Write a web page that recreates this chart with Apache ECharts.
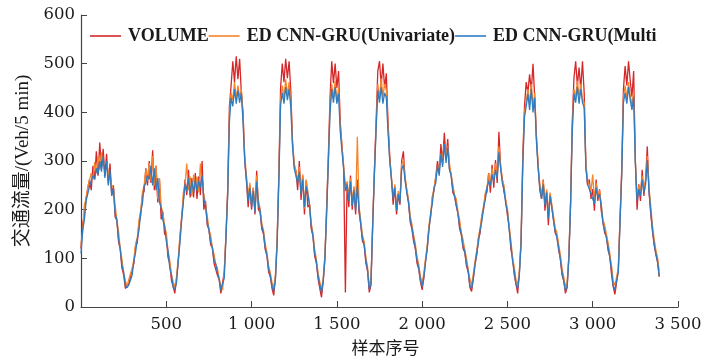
<!DOCTYPE html>
<html>
<head>
<meta charset="utf-8">
<script src="https://cdn.jsdelivr.net/npm/echarts@6/dist/echarts.min.js"></script>
<style>
html,body{margin:0;padding:0;background:#fff;}
#chart{width:706px;height:363px;}
</style>
</head>
<body>
<div id="chart"></div>
<script>
// sample index step between stored values
var sampleStep = 10;
var seriesNames = ['VOLUME', 'ED CNN-GRU(Univariate)', 'ED CNN-GRU(Multi'];
var xTicks = [0, 500, 1000, 1500, 2000, 2500, 3000, 3500];
var yTicks = [0, 100, 200, 300, 400, 500, 600];

var volume = [
120,172,190,225,222,262,240,290,262,320,270,338,285,325,270,315,255,295,230,250,185,178,135,118,80,66,38,36,48,
50,76,90,125,132,172,188,230,238,285,250,300,255,322,240,290,215,262,180,195,150,145,102,90,55,42,28,58,92,
140,185,220,262,230,282,225,265,225,275,222,268,230,300,200,218,168,160,128,122,90,88,65,56,28,24,72,150,
241,412,455,505,462,515,468,510,440,400,300,258,205,250,200,245,190,280,200,195,160,150,118,106,72,62,38,24,60,
138,276,450,500,462,510,470,505,445,340,290,280,240,300,220,270,190,260,205,210,160,146,104,90,58,38,20,52,100,205,
309,430,505,460,500,450,485,380,330,285,30,255,205,270,200,245,190,262,195,170,135,128,90,74,30,45,
172,280,379,485,505,455,500,450,480,380,310,265,210,248,190,232,210,300,320,262,238,215,175,160,135,120,90,78,52,35,
60,95,120,165,185,225,240,268,300,275,335,295,358,305,345,285,272,235,228,208,192,160,148,120,112,84,72,40,32,
58,88,106,140,152,185,200,230,236,275,235,292,245,302,255,360,288,262,236,218,188,165,120,100,66,48,28,70,
138,309,412,462,440,478,445,500,430,350,290,240,222,262,198,238,168,232,205,180,152,145,118,100,66,54,28,40,
103,213,379,470,505,455,492,448,505,440,290,250,262,222,242,198,262,218,242,198,175,152,146,116,105,68,42,26,30,
75,180,281,447,495,455,505,465,432,485,300,200,252,218,282,228,262,330,238,192,158,128,108,92,62
];

var univariate = [
128,156,210,222,248,250,275,262,298,275,310,282,318,290,292,300,275,272,250,244,210,178,156,120,98,70,54,42,56,
60,80,98,130,142,178,198,235,250,282,260,296,260,310,250,290,222,265,205,195,166,152,116,96,68,52,40,62,100,
148,182,236,250,295,240,268,228,272,245,268,236,295,248,232,210,188,160,148,122,108,88,80,58,44,35,74,148,
235,395,440,425,462,428,455,432,448,390,310,270,228,255,212,245,198,270,220,202,172,158,130,112,84,70,50,40,66,
140,268,425,455,430,468,435,462,420,340,295,278,260,288,238,272,202,262,238,212,172,152,118,98,70,52,35,60,108,198,
300,410,458,430,465,422,450,370,330,290,248,258,225,265,215,248,205,350,208,178,148,135,103,82,44,56,
170,275,372,458,430,470,432,458,445,370,305,266,228,252,202,238,220,292,302,268,242,222,188,170,148,130,103,87,63,50,
70,100,128,168,192,228,245,268,290,285,315,305,335,312,330,295,272,252,230,222,196,178,152,138,118,100,78,57,45,
68,94,116,145,162,190,206,234,245,274,250,285,258,295,268,330,292,262,250,220,202,168,138,102,82,56,46,75,
135,298,400,422,448,418,458,412,440,350,292,252,230,260,212,242,190,235,212,188,162,153,130,108,80,62,42,50,
105,210,368,448,430,465,432,458,428,420,292,262,258,238,272,218,255,230,240,212,180,168,150,133,110,86,54,44,44,
80,178,276,430,455,428,462,435,415,442,302,225,250,235,270,243,260,310,246,208,168,140,118,102,74
];

var multi = [
110,158,180,218,220,248,245,270,262,285,272,300,278,310,265,300,250,282,228,245,192,180,140,120,86,72,45,40,45,
55,66,95,112,140,158,196,212,248,255,270,262,290,250,285,240,265,215,205,178,168,136,116,82,66,42,36,50,95,
132,178,215,252,238,265,232,258,235,262,238,258,245,270,222,208,175,158,134,122,96,88,70,58,34,32,60,142,
230,380,430,412,448,418,445,420,440,380,300,262,218,245,205,238,195,258,210,198,165,152,122,106,78,64,43,32,58,
130,260,415,440,418,452,425,448,410,330,285,270,255,278,232,262,205,248,232,208,165,145,110,92,63,45,30,54,100,190,
295,400,448,420,452,418,438,360,320,282,238,252,218,258,208,240,198,248,202,170,140,128,96,76,36,48,
165,270,365,445,420,452,418,440,430,360,300,262,222,245,198,232,215,282,292,260,235,215,180,163,140,123,96,80,56,42,
62,92,122,158,192,214,245,255,290,270,315,288,335,296,328,282,270,240,228,210,192,165,150,125,114,88,74,45,38,
60,86,112,132,160,176,205,220,245,258,250,272,256,282,265,318,285,255,242,212,195,160,128,95,74,46,38,66,
130,290,390,412,438,405,448,400,430,340,285,245,222,252,208,235,182,228,205,178,156,143,122,99,71,54,34,42,
98,205,360,438,420,452,418,448,420,410,285,252,250,232,236,212,246,225,232,208,172,158,142,124,102,76,44,35,36,
72,172,270,420,440,418,452,425,405,432,295,218,242,228,262,235,252,302,238,198,160,130,110,94,64
];

var colors = ['#d62728', '#f7852a', '#2f7cc0'];

function toPairs(arr) {
  return arr.map(function (v, i) { return [i * sampleStep, v]; });
}
function fmtThousands(v) {
  var s = String(v);
  return s.length > 3 ? s.slice(0, s.length - 3) + ' ' + s.slice(-3) : s;
}

var serif = '"Liberation Serif", "Times New Roman", serif';
var tickFont = '"DejaVu Serif", serif';
var nameFont = '"Liberation Serif", "Noto Sans CJK SC", serif';
var chart = echarts.init(document.getElementById('chart'), null, {renderer: 'canvas'});
chart.setOption({
  animation: false,
  backgroundColor: '#ffffff',
  grid: {left: 81, right: 28, top: 15, bottom: 56, containLabel: false},
  legend: {
    data: seriesNames,
    icon: 'rect',
    left: 85,
    top: 22,
    itemGap: 0,
    itemWidth: 31,
    itemHeight: 1.6,
    textStyle: {fontFamily: serif, fontWeight: 'bold', fontSize: 18, color: '#1a1a1a', padding: [0, 0, 0, 2]}
  },
  xAxis: {
    type: 'value',
    min: xTicks[0],
    max: xTicks[xTicks.length - 1],
    interval: 500,
    name: '样本序号',
    nameLocation: 'middle',
    nameGap: 34,
    nameTextStyle: {fontFamily: nameFont, fontSize: 17, color: '#1a1a1a', padding: [0, 0, 0, 12]},
    axisLine: {show: true, lineStyle: {color: '#444', width: 1.2}},
    axisTick: {show: true, inside: true, length: 6, lineStyle: {color: '#444'}},
    splitLine: {show: false},
    axisLabel: {
      showMinLabel: false,
      margin: 9,
      fontFamily: tickFont, fontSize: 16.5, color: '#1a1a1a',
      formatter: function (v) { return fmtThousands(v); }
    }
  },
  yAxis: {
    type: 'value',
    min: yTicks[0],
    max: yTicks[yTicks.length - 1],
    interval: 100,
    name: '交通流量/(Veh/5 min)',
    nameLocation: 'middle',
    nameGap: 45,
    nameRotate: 90,
    nameTextStyle: {fontFamily: nameFont, fontSize: 19, color: '#1a1a1a'},
    axisLine: {show: true, lineStyle: {color: '#444', width: 1.2}},
    axisTick: {show: true, inside: true, length: 6, lineStyle: {color: '#444'}},
    splitLine: {show: false},
    axisLabel: {margin: 6, fontFamily: tickFont, fontSize: 16.5, color: '#1a1a1a'}
  },
  series: [
    {name: seriesNames[0], type: 'line', data: toPairs(volume), symbol: 'none', lineStyle: {width: 1.3, color: colors[0]}, itemStyle: {color: colors[0]}},
    {name: seriesNames[1], type: 'line', data: toPairs(univariate), symbol: 'none', lineStyle: {width: 1.3, color: colors[1]}, itemStyle: {color: colors[1]}},
    {name: seriesNames[2], type: 'line', data: toPairs(multi), symbol: 'none', lineStyle: {width: 1.3, color: colors[2]}, itemStyle: {color: colors[2]}}
  ]
});
</script>
</body>
</html>
